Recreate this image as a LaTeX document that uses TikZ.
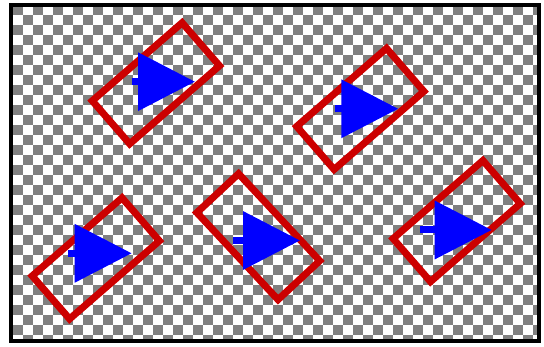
\documentclass[tikz,border=0pt]{standalone}
\usepackage{xcolor}
\usetikzlibrary{arrows.meta}

\definecolor{boxred}{RGB}{204,0,0}
\definecolor{tilegray}{RGB}{128,128,128}

\begin{document}
\begin{tikzpicture}[x=1pt, y=-1pt, >={Triangle[length=57pt, width=57pt]},
		framebox/.style={draw=boxred, line width=7pt, minimum width=119pt, minimum height=57pt, inner sep=0pt},
		pointer/.style={->, blue, line width=7pt}]
		\useasboundingbox (0,0) rectangle (544,347);

		% Checkerboard background
		\fill[white] (11,5) rectangle (539,341);
		\begin{scope}
			\clip (11,5) rectangle (539,341);
			\foreach \i in {0,...,26}
				\foreach \j in {0,...,17} {
					\fill[tilegray] ({13+20*\i},{5+20*\j}) rectangle ++(10,10);
					\fill[tilegray] ({3+20*\i},{15+20*\j}) rectangle ++(10,10);
				}
		\end{scope}

		% Tilted boxes
		\node[framebox, rotate=41] (boxA) at (155.9,83.3) {};
		\node[framebox, rotate=41] (boxB) at (360.3,108.9) {};
		\node[framebox, rotate=41] (boxC) at (95.8,258.4) {};
		\node[framebox, rotate=-47] (boxD) at (258.3,236.7) {};
		\node[framebox, rotate=41] (boxE) at (456.7,221.1) {};

		% Pointers
		\draw[pointer] (131.7,81.7) -- (195,81.7);
		\draw[pointer] (335,108.8) -- (398.3,108.8);
		\draw[pointer] (68.3,253.3) -- (131.7,253.3);
		\draw[pointer] (233.3,240.5) -- (300,240.5);
		\draw[pointer] (420,230) -- (491.7,230);

		% Frame
		\draw[line width=4pt] (11,5) rectangle (539,341);
	\end{tikzpicture}
\end{document}
